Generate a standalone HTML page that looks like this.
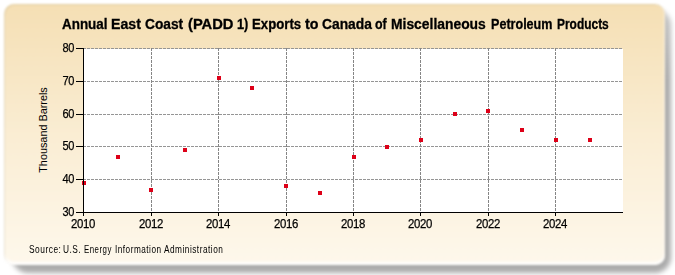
<!DOCTYPE html>
<html><head><meta charset="utf-8"><style>
html,body{margin:0;padding:0;background:#fff;width:675px;height:275px;overflow:hidden;position:relative;font-family:"Liberation Sans",sans-serif;}
.shadow{position:absolute;left:12px;top:9px;width:659px;height:264px;border-radius:16px;background:linear-gradient(to bottom,rgba(0,0,0,0.22) 0px,rgba(0,0,0,0.33) 70px);filter:blur(2.5px);}
.panel{position:absolute;left:3.5px;top:3.5px;width:661.5px;height:261px;border-radius:10px;background:linear-gradient(to bottom,#f5dfb4 0%,#faedd3 50%,#fef8ec 100%);box-shadow:inset 1px 1px 1px rgba(140,120,80,0.18),inset 0 -3px 2px rgba(255,255,255,0.9),inset -1px 0 1px rgba(255,255,255,0.4);filter:blur(1px);}
.plot{position:absolute;left:84px;top:49px;width:539px;height:163px;background:#fff;}
svg{position:absolute;left:0;top:0;}
.title{position:absolute;left:0;top:16px;font-weight:bold;font-size:14px;color:#000;white-space:nowrap;line-height:normal;-webkit-text-stroke:0.3px #000;}
.yl{position:absolute;left:40px;width:34px;text-align:right;transform-origin:100% 50%;transform:scaleX(0.92);font-size:12px;color:#000;letter-spacing:-0.4px;line-height:14px;-webkit-text-stroke:0.25px #000;}
.xl{position:absolute;top:217px;width:40px;text-align:center;transform:scaleX(0.95);font-size:12px;color:#000;letter-spacing:-0.4px;line-height:14px;-webkit-text-stroke:0.25px #000;}
.ytitle{position:absolute;left:43px;top:129.5px;font-size:11px;color:#000;white-space:nowrap;transform:translate(-50%,-50%) rotate(-90deg) scaleX(0.985);line-height:12px;}
.src{position:absolute;left:0;top:244.2px;font-size:10px;color:#000;white-space:nowrap;line-height:normal;letter-spacing:0.6px;}
</style></head><body>
<div class="shadow"></div>
<div class="panel"></div>
<div class="plot"></div>
<svg width="675" height="275" viewBox="0 0 675 275">
<line x1="83" y1="179.5" x2="623" y2="179.5" stroke="#959595" stroke-width="1" stroke-dasharray="3 1"/>
<line x1="83" y1="146.5" x2="623" y2="146.5" stroke="#959595" stroke-width="1" stroke-dasharray="3 1"/>
<line x1="83" y1="114.5" x2="623" y2="114.5" stroke="#959595" stroke-width="1" stroke-dasharray="3 1"/>
<line x1="83" y1="81.5" x2="623" y2="81.5" stroke="#959595" stroke-width="1" stroke-dasharray="3 1"/>
<line x1="83" y1="48.5" x2="623" y2="48.5" stroke="#959595" stroke-width="1" stroke-dasharray="3 1"/>
<line x1="151.5" y1="48" x2="151.5" y2="212" stroke="#858585" stroke-width="1" stroke-dasharray="3 1"/>
<line x1="218.5" y1="48" x2="218.5" y2="212" stroke="#858585" stroke-width="1" stroke-dasharray="3 1"/>
<line x1="286.5" y1="48" x2="286.5" y2="212" stroke="#858585" stroke-width="1" stroke-dasharray="3 1"/>
<line x1="353.5" y1="48" x2="353.5" y2="212" stroke="#858585" stroke-width="1" stroke-dasharray="3 1"/>
<line x1="420.5" y1="48" x2="420.5" y2="212" stroke="#858585" stroke-width="1" stroke-dasharray="3 1"/>
<line x1="488.5" y1="48" x2="488.5" y2="212" stroke="#858585" stroke-width="1" stroke-dasharray="3 1"/>
<line x1="555.5" y1="48" x2="555.5" y2="212" stroke="#858585" stroke-width="1" stroke-dasharray="3 1"/>
<rect x="82" y="181" width="4" height="4" fill="#dd0018"/>
<rect x="116" y="155" width="4" height="4" fill="#dd0018"/>
<rect x="149" y="188" width="4" height="4" fill="#dd0018"/>
<rect x="183" y="148" width="4" height="4" fill="#dd0018"/>
<rect x="217" y="76" width="4" height="4" fill="#dd0018"/>
<rect x="250" y="86" width="4" height="4" fill="#dd0018"/>
<rect x="284" y="184" width="4" height="4" fill="#dd0018"/>
<rect x="318" y="191" width="4" height="4" fill="#dd0018"/>
<rect x="352" y="155" width="4" height="4" fill="#dd0018"/>
<rect x="385" y="145" width="4" height="4" fill="#dd0018"/>
<rect x="419" y="138" width="4" height="4" fill="#dd0018"/>
<rect x="453" y="112" width="4" height="4" fill="#dd0018"/>
<rect x="486" y="109" width="4" height="4" fill="#dd0018"/>
<rect x="520" y="128" width="4" height="4" fill="#dd0018"/>
<rect x="554" y="138" width="4" height="4" fill="#dd0018"/>
<rect x="588" y="138" width="4" height="4" fill="#dd0018"/>
<line x1="83.5" y1="48" x2="83.5" y2="216" stroke="#000" stroke-width="1"/>
<line x1="76" y1="212.5" x2="623" y2="212.5" stroke="#000" stroke-width="1"/>
<line x1="76" y1="212.5" x2="84" y2="212.5" stroke="#000" stroke-width="1"/>
<line x1="76" y1="179.5" x2="84" y2="179.5" stroke="#000" stroke-width="1"/>
<line x1="76" y1="146.5" x2="84" y2="146.5" stroke="#000" stroke-width="1"/>
<line x1="76" y1="114.5" x2="84" y2="114.5" stroke="#000" stroke-width="1"/>
<line x1="76" y1="81.5" x2="84" y2="81.5" stroke="#000" stroke-width="1"/>
<line x1="76" y1="48.5" x2="84" y2="48.5" stroke="#000" stroke-width="1"/>
<line x1="83.5" y1="212" x2="83.5" y2="216" stroke="#000" stroke-width="1"/>
<line x1="151.5" y1="212" x2="151.5" y2="216" stroke="#000" stroke-width="1"/>
<line x1="218.5" y1="212" x2="218.5" y2="216" stroke="#000" stroke-width="1"/>
<line x1="286.5" y1="212" x2="286.5" y2="216" stroke="#000" stroke-width="1"/>
<line x1="353.5" y1="212" x2="353.5" y2="216" stroke="#000" stroke-width="1"/>
<line x1="420.5" y1="212" x2="420.5" y2="216" stroke="#000" stroke-width="1"/>
<line x1="488.5" y1="212" x2="488.5" y2="216" stroke="#000" stroke-width="1"/>
<line x1="555.5" y1="212" x2="555.5" y2="216" stroke="#000" stroke-width="1"/>
</svg>
<div class="title"><span style="position:absolute;left:62.27px;top:0;transform-origin:0 0;transform:scaleX(0.9589)">Annual</span><span style="position:absolute;left:110.65px;top:0;transform-origin:0 0;transform:scaleX(1.0108)">East</span><span style="position:absolute;left:145.35px;top:0;transform-origin:0 0;transform:scaleX(0.9810)">Coast</span><span style="position:absolute;left:187.76px;top:0;transform-origin:0 0;transform:scaleX(1.0506)">(PADD</span><span style="position:absolute;left:237.05px;top:0;transform-origin:0 0;transform:scaleX(0.9134)">1)</span><span style="position:absolute;left:251.98px;top:0;transform-origin:0 0;transform:scaleX(0.9421)">Exports</span><span style="position:absolute;left:304.70px;top:0;transform-origin:0 0;transform:scaleX(1.0178)">to</span><span style="position:absolute;left:322.15px;top:0;transform-origin:0 0;transform:scaleX(0.9875)">Canada</span><span style="position:absolute;left:375.02px;top:0;transform-origin:0 0;transform:scaleX(0.8843)">of</span><span style="position:absolute;left:390.58px;top:0;transform-origin:0 0;transform:scaleX(0.9904)">Miscellaneous</span><span style="position:absolute;left:490.91px;top:0;transform-origin:0 0;transform:scaleX(0.8979)">Petroleum</span><span style="position:absolute;left:556.61px;top:0;transform-origin:0 0;transform:scaleX(0.8529)">Products</span></div>
<div class="yl" style="top:205px">30</div>
<div class="yl" style="top:172px">40</div>
<div class="yl" style="top:139px">50</div>
<div class="yl" style="top:107px">60</div>
<div class="yl" style="top:74px">70</div>
<div class="yl" style="top:41px">80</div>
<div class="xl" style="left:63px">2010</div>
<div class="xl" style="left:131px">2012</div>
<div class="xl" style="left:198px">2014</div>
<div class="xl" style="left:266px">2016</div>
<div class="xl" style="left:333px">2018</div>
<div class="xl" style="left:400px">2020</div>
<div class="xl" style="left:468px">2022</div>
<div class="xl" style="left:535px">2024</div>
<div class="ytitle">Thousand Barrels</div>
<div class="src"><span style="position:absolute;left:28.81px;top:0;transform-origin:0 0;transform:scaleX(0.8388)">Source:</span><span style="position:absolute;left:62.67px;top:0;transform-origin:0 0;transform:scaleX(0.8318)">U.S.</span><span style="position:absolute;left:83.88px;top:0;transform-origin:0 0;transform:scaleX(0.7889)">Energy</span><span style="position:absolute;left:115.01px;top:0;transform-origin:0 0;transform:scaleX(0.8220)">Information</span><span style="position:absolute;left:163.59px;top:0;transform-origin:0 0;transform:scaleX(0.8267)">Administration</span></div>
</body></html>
